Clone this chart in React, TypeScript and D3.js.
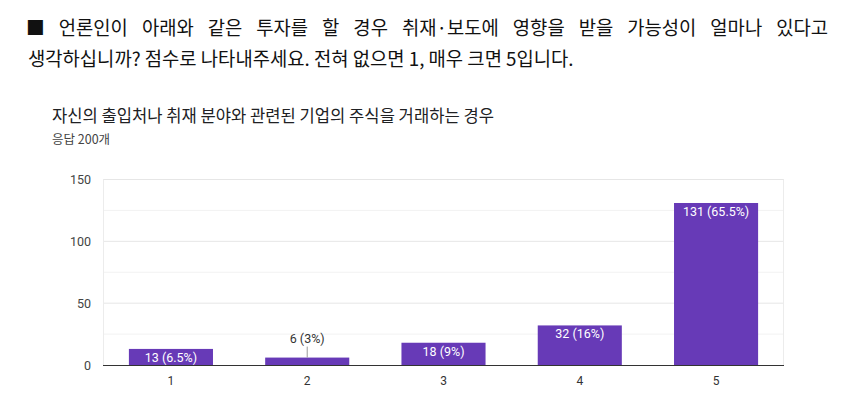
import React, { useEffect, useRef } from "react";
import * as d3 from "d3";

const categories = ["1", "2", "3", "4", "5"];
const counts = [13, 6, 18, 32, 131];
const percents = ["6.5%", "3%", "9%", "16%", "65.5%"];
const yTicks = [0, 50, 100, 150];
const minorTicks = [25, 75, 125];
const questionLine1 = "■ 언론인이 아래와 같은 투자를 할 경우 취재·보도에 영향을 받을 가능성이 얼마나 있다고";
const questionLine2 = "생각하십니까? 점수로 나타내주세요. 전혀 없으면 1, 매우 크면 5입니다.";
const chartTitle = "자신의 출입처나 취재 분야와 관련된 기업의 주식을 거래하는 경우";
const responseNote = "응답 200개";

const W = 849;
const H = 403;
const plot = { left: 103, right: 784, top: 179.5, bottom: 365 };
const KFONT = "'Noto Sans CJK KR', 'Noto Sans', sans-serif";
const NFONT = "Roboto, Arial, sans-serif";

export default function App() {
  const line1Ref = useRef<SVGTextElement>(null);

  useEffect(() => {
    const el = line1Ref.current;
    if (!el) return;
    el.setAttribute("word-spacing", "0");
    const natural = el.getComputedTextLength();
    const target = 828 - 26;
    const gaps = questionLine1.split(" ").length - 1;
    const extra = (target - natural) / gaps;
    el.setAttribute("word-spacing", String(extra));
  }, []);

  const x = d3.scaleBand<string>().domain(categories).range([plot.left, plot.right]).paddingInner(0.383).paddingOuter(0.19);
  const y = d3.scaleLinear().domain([0, 150]).range([plot.bottom, plot.top]);

  return (
    <svg width={W} height={H} style={{ position: "absolute", left: 0, top: 0 }}>
      <rect width={W} height={H} fill="#fff" />
      <text ref={line1Ref} x={26} y={35} fontFamily={KFONT} fontSize={18.8} fill="#111">
        {questionLine1}
      </text>
      <text x={28} y={66} fontFamily={KFONT} fontSize={18.8} fill="#111">
        {questionLine2}
      </text>
      <text x={52} y={122} fontFamily={KFONT} fontSize={16.6} fill="#202124">
        {chartTitle}
      </text>
      <text x={52} y={144} fontFamily={KFONT} fontSize={12.5} fill="#444">
        {responseNote}
      </text>

      {minorTicks.map((t) => (
        <line key={"m" + t} x1={plot.left} x2={plot.right} y1={y(t)} y2={y(t)} stroke="#f2f2f2" />
      ))}
      {yTicks.map((t) => (
        <g key={"t" + t}>
          {t !== 0 && <line x1={plot.left} x2={plot.right} y1={y(t)} y2={y(t)} stroke="#e6e6e6" />}
          <text x={91} y={y(t) + 4.5} textAnchor="end" fontFamily={NFONT} fontSize={12.5} fill="#444">
            {t}
          </text>
        </g>
      ))}
      <line x1={plot.left + 0.5} x2={plot.left + 0.5} y1={plot.top} y2={plot.bottom} stroke="#ececec" />
      <line x1={plot.right - 0.5} x2={plot.right - 0.5} y1={plot.top} y2={plot.bottom} stroke="#ececec" />

      {categories.map((c, i) => {
        const bx = x(c)!;
        const bw = x.bandwidth();
        const top = y(counts[i]);
        const label = `${counts[i]} (${percents[i]})`;
        const inside = plot.bottom - top > 12;
        return (
          <g key={c}>
            <rect x={bx} y={top} width={bw} height={plot.bottom - top} fill="#673ab7" />
            {inside ? (
              <text x={bx + bw / 2} y={top + 13} textAnchor="middle" fontFamily={NFONT} fontSize={12.5} fill="#fff">
                {label}
              </text>
            ) : (
              <g>
                <line x1={bx + bw / 2} x2={bx + bw / 2} y1={top} y2={top - 11} stroke="#999" />
                <text x={bx + bw / 2} y={top - 15} textAnchor="middle" fontFamily={NFONT} fontSize={12.5} fill="#333">
                  {label}
                </text>
              </g>
            )}
            <text x={bx + bw / 2} y={384.5} textAnchor="middle" fontFamily={NFONT} fontSize={12} fill="#333">
              {c}
            </text>
          </g>
        );
      })}
      <line x1={plot.left} x2={plot.right} y1={plot.bottom + 0.5} y2={plot.bottom + 0.5} stroke="#333" />
    </svg>
  );
}
